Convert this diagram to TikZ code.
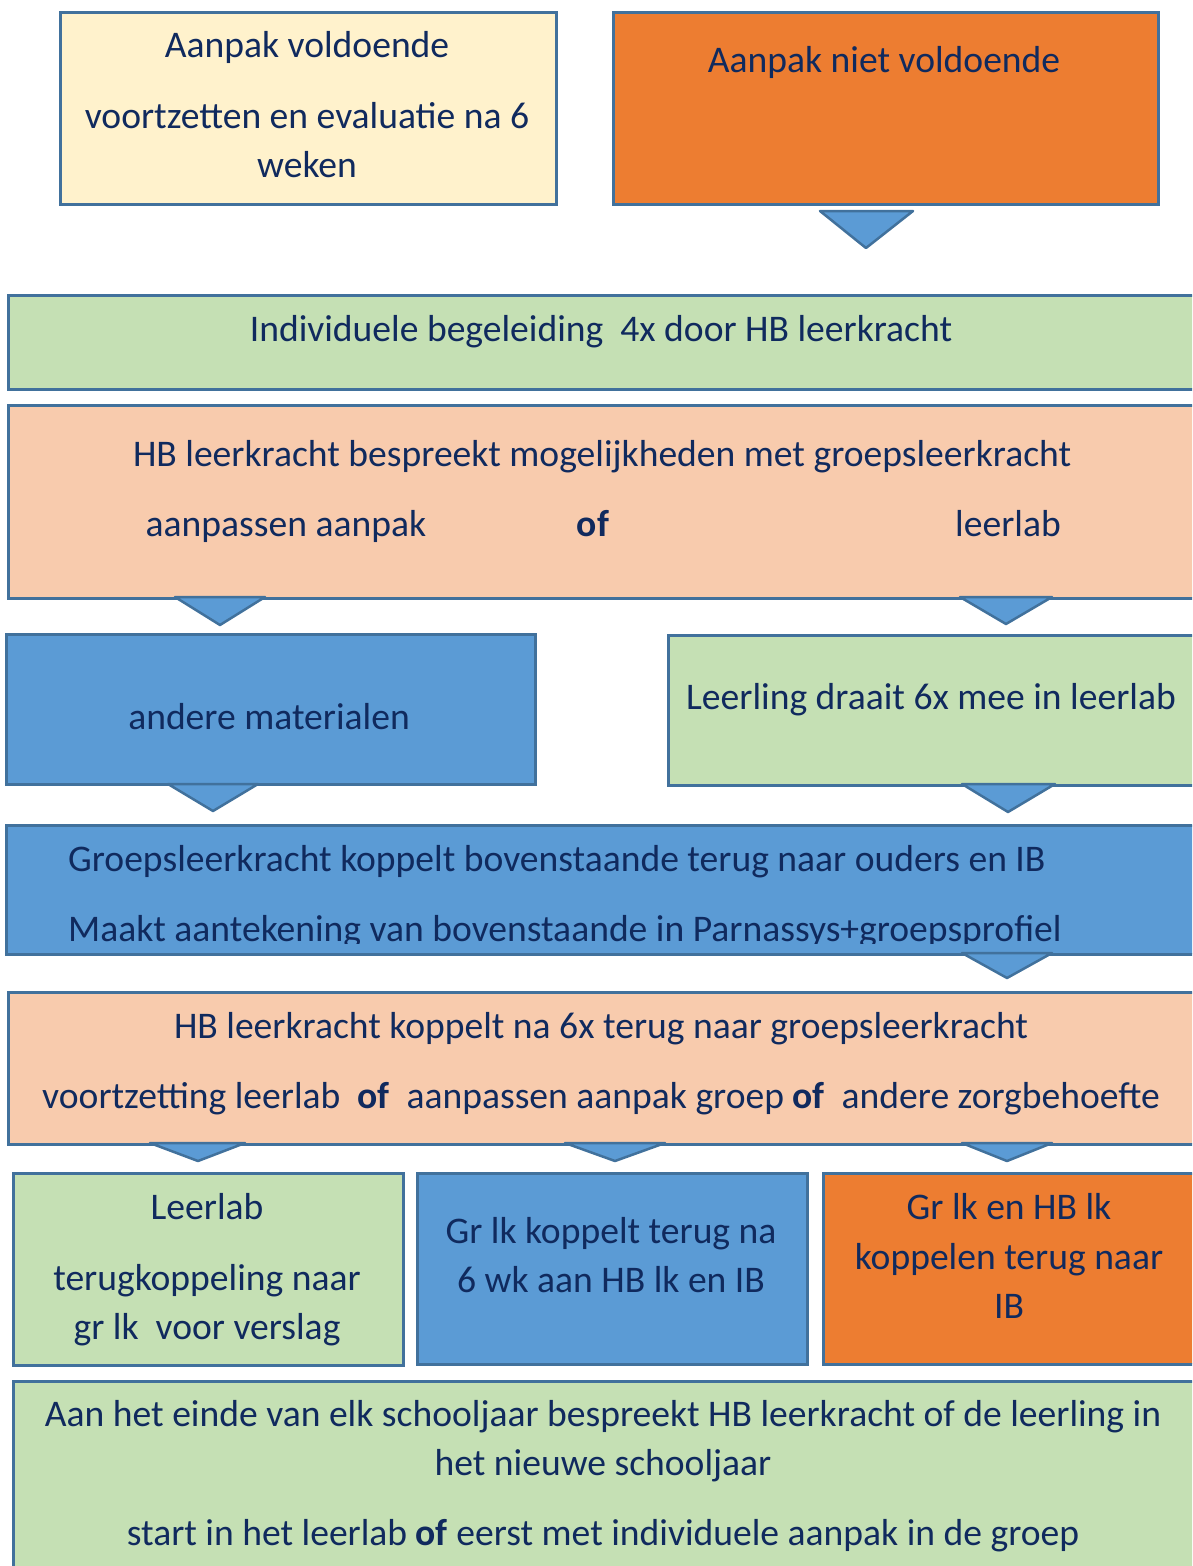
\documentclass[tikz,border=0pt]{standalone}
\usepackage{fontspec}
\setmainfont{Carlito}
\usetikzlibrary{calc}

\definecolor{geel}{HTML}{FFF2CC}
\definecolor{oranje}{HTML}{ED7D31}
\definecolor{groen}{HTML}{C5E0B4}
\definecolor{zalm}{HTML}{F8CBAD}
\definecolor{blauw}{HTML}{5B9BD5}
\definecolor{rand}{HTML}{41719C}
\definecolor{tekst}{RGB}{16,42,94}

\tikzset{
  blok/.style={draw=rand, line width=2.5pt, anchor=north west, inner sep=0pt},
  regel/.style={anchor=base, inner sep=0pt, text=tekst, font=\fontsize{37.6}{45}\selectfont},
  pijl/.style={draw=rand, fill=blauw, line width=2.5pt, line join=round}
}

\begin{document}
\begin{tikzpicture}[x=1pt, y=-1pt]
\useasboundingbox (0,0) rectangle (1192,1566);
\clip (0,0) rectangle (1192,1566);

% blokken
\node[blok, fill=geel, minimum width=496, minimum height=192] (voldoende) at (59,11) {};
\node[blok, fill=oranje, minimum width=545, minimum height=192] (nietvoldoende) at (612,11) {};
\node[blok, fill=groen, minimum width=1200, minimum height=94] (individueel) at (7,294) {};
\node[blok, fill=zalm, minimum width=1200, minimum height=193] (bespreekt) at (7,404) {};
\node[blok, fill=blauw, minimum width=529, minimum height=150] (materialen) at (5,633) {};
\node[blok, fill=groen, minimum width=540, minimum height=150] (leerlab) at (667,634) {};
\node[blok, fill=blauw, minimum width=1200, minimum height=129] (terugkoppeling) at (5,824) {};
\node[blok, fill=zalm, minimum width=1200, minimum height=152] (koppelt) at (7,991) {};
\node[blok, fill=groen, minimum width=390, minimum height=192] (verslag) at (12,1172) {};
\node[blok, fill=blauw, minimum width=390, minimum height=191] (grlk) at (416,1172) {};
\node[blok, fill=oranje, minimum width=380, minimum height=191] (grhb) at (822,1172) {};
\node[blok, fill=groen, minimum width=1190, minimum height=200] (schooljaar) at (12,1380) {};

% pijlen
\draw[pijl] (820,211) -- (913,211) -- (866,248) -- cycle;
\draw[pijl] (175,597) -- (265,597) -- (220,625) -- cycle;
\draw[pijl] (960,597) -- (1052,597) -- (1006,624) -- cycle;
\draw[pijl] (168,784) -- (258,784) -- (213,811) -- cycle;
\draw[pijl] (962,784) -- (1055,784) -- (1008,812) -- cycle;
\draw[pijl] (962,953) -- (1052,953) -- (1007,978) -- cycle;
\draw[pijl] (150,1143) -- (245,1143) -- (198,1161) -- cycle;
\draw[pijl] (565,1143) -- (665,1143) -- (615,1161) -- cycle;
\draw[pijl] (962,1143) -- (1052,1143) -- (1007,1161) -- cycle;

% teksten
\node[regel] (v1) at (307,57) {Aanpak voldoende};
\node[regel] (v2) at (307,128) {voortzetten en evaluatie na 6};
\node[regel] (v3) at (307,177) {weken};
\node[regel] (nv1) at (884,72) {Aanpak niet voldoende};
\node[regel] (ib1) at (601,341) {Individuele begeleiding\ \ 4x door HB leerkracht};
\node[regel] (bs1) at (602,466) {HB leerkracht bespreekt mogelijkheden met groepsleerkracht};
\node[regel] (bs2) at (286,536) {aanpassen aanpak};
\node[regel] (bs3) at (593,536) {\textbf{of}};
\node[regel] (bs4) at (1008,536) {leerlab};
\node[regel] (am1) at (269,729) {andere materialen};
\node[regel] (ll1) at (931,709) {Leerling draait 6x mee in leerlab};
\node[regel, anchor=base west] (tk1) at (68,871) {Groepsleerkracht koppelt bovenstaande terug naar ouders en IB};
\begin{scope}
\clip (0,824) rectangle (1192,943);
\node[regel, anchor=base west] (tk2) at (68,941) {Maakt aantekening van bovenstaande in Parnassys+groepsprofiel};
\end{scope}
\node[regel] (kp1) at (601,1038) {HB leerkracht koppelt na 6x terug naar groepsleerkracht};
\node[regel] (kp2) at (601,1108) {voortzetting leerlab\ \ \textbf{of}\ \ aanpassen aanpak groep \textbf{of}\ \ andere zorgbehoefte};
\node[regel] (vs1) at (207,1219) {Leerlab};
\node[regel] (vs2) at (207,1290) {terugkoppeling naar};
\node[regel] (vs3) at (207,1339) {gr lk\ \ voor verslag};
\node[regel] (gl1) at (611,1243) {Gr lk koppelt terug na};
\node[regel] (gl2) at (611,1292) {6 wk aan HB lk en IB};
\node[regel] (gh1) at (1009,1219) {Gr lk en HB lk};
\node[regel] (gh2) at (1009,1269) {koppelen terug naar};
\node[regel] (gh3) at (1009,1318) {IB};
\node[regel] (sj1) at (603,1426) {Aan het einde van elk schooljaar bespreekt HB leerkracht of de leerling in};
\node[regel] (sj2) at (603,1475) {het nieuwe schooljaar};
\node[regel] (sj3) at (603,1545) {start in het leerlab \textbf{of} eerst met individuele aanpak in de groep};
\end{tikzpicture}
\end{document}
